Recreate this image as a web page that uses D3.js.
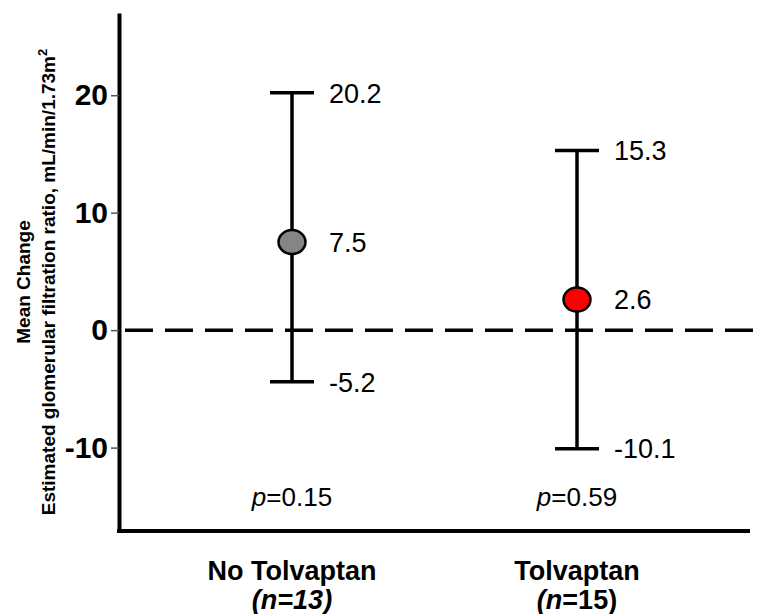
<!DOCTYPE html>
<html>
<head>
<meta charset="utf-8">
<script src="https://cdn.jsdelivr.net/npm/d3@7"></script>
<style>
  body { margin: 0; background: #fff; }
  svg { display: block; font-family: "Liberation Sans", Arial, sans-serif; }
</style>
</head>
<body>
<div id="chart"></div>
<script>
// data
var categories = ["No Tolvaptan", "Tolvaptan"];
var nLabels = ["13", "15"];
var means = [7.5, 2.6];
var upper = [20.2, 15.3];
var lower = [-4.4, -10.1];          // where the caps sit on the axis
var meanText = ["7.5", "2.6"];
var upperText = ["20.2", "15.3"];
var lowerText = ["-5.2", "-10.1"];
var pValues = ["0.15", "0.59"];
var dotColors = ["#858585", "#ff0000"];
var yTicks = [-10, 0, 10, 20];

var width = 765, height = 614;

var svg = d3.select("#chart")
  .append("svg")
  .attr("width", width)
  .attr("height", height);

// scales
var y = d3.scaleLinear()
  .domain([-17.1, 27])
  .range([531, 13]);

var x = d3.scalePoint()
  .domain(categories)
  .range([119, 750])
  .padding(0.607);

// y axis
var yAxis = svg.append("g")
  .attr("transform", "translate(119,0)")
  .call(d3.axisLeft(y)
    .tickValues(yTicks)
    .tickFormat(function(d) { return String(d); })   // plain hyphen like the original
    .tickSize(8).tickSizeOuter(0).tickPadding(3));

yAxis.select(".domain")
  .attr("stroke", "#000")
  .attr("stroke-width", 4);
yAxis.selectAll(".tick line")
  .attr("stroke", "#555")
  .attr("stroke-width", 1.5);
yAxis.selectAll(".tick text")
  .attr("font-size", 30)
  .attr("font-weight", "bold")
  .attr("font-family", "Liberation Sans, Arial, sans-serif")
  .attr("fill", "#000");

// x axis (line only, labels added below)
var xAxis = svg.append("g")
  .attr("transform", "translate(0,531)")
  .call(d3.axisBottom(x).tickSize(0).tickSizeOuter(0).tickFormat(""));
xAxis.select(".domain")
  .attr("stroke", "#000")
  .attr("stroke-width", 4)
  .attr("d", "M117,0H750");

// category labels, two lines each
svg.selectAll(".cat")
  .data(categories)
  .enter()
  .append("text")
  .attr("class", "cat")
  .attr("x", function(d) { return x(d); })
  .attr("y", 580)
  .attr("text-anchor", "middle")
  .attr("font-size", 27)
  .attr("font-weight", "bold")
  .text(function(d) { return d; });

var nText = svg.selectAll(".ncount")
  .data(categories)
  .enter()
  .append("text")
  .attr("class", "ncount")
  .attr("x", function(d) { return x(d); })
  .attr("y", 609)
  .attr("text-anchor", "middle")
  .attr("font-size", 27)
  .attr("font-weight", "bold");
nText.append("tspan").attr("font-style", "italic").text("(n");
nText.append("tspan")
  .attr("font-style", function(d, i) { return i === 0 ? "italic" : "normal"; })
  .text(function(d, i) { return "=" + nLabels[i] + ")"; });

// zero reference line
svg.append("line")
  .attr("x1", 125)
  .attr("x2", width)
  .attr("y1", y(0))
  .attr("y2", y(0))
  .attr("stroke", "#000")
  .attr("stroke-width", 3.5)
  .attr("stroke-dasharray", "28,12");

// error bars
var bars = svg.selectAll(".bar")
  .data(categories)
  .enter()
  .append("g")
  .attr("class", "bar");

bars.append("line")
  .attr("x1", function(d) { return x(d); })
  .attr("x2", function(d) { return x(d); })
  .attr("y1", function(d, i) { return y(upper[i]); })
  .attr("y2", function(d, i) { return y(lower[i]); })
  .attr("stroke", "#000")
  .attr("stroke-width", 3.5);

[upper, lower].forEach(function(arr) {
  bars.append("line")
    .attr("x1", function(d) { return x(d) - 22; })
    .attr("x2", function(d) { return x(d) + 22; })
    .attr("y1", function(d, i) { return y(arr[i]); })
    .attr("y2", function(d, i) { return y(arr[i]); })
    .attr("stroke", "#000")
    .attr("stroke-width", 3.5);
});

bars.append("ellipse")
  .attr("cx", function(d) { return x(d); })
  .attr("cy", function(d, i) { return y(means[i]); })
  .attr("rx", 13.5)
  .attr("ry", 12)
  .attr("fill", function(d, i) { return dotColors[i]; })
  .attr("stroke", "#000")
  .attr("stroke-width", 2.5);

// value labels
[[upper, upperText], [means, meanText], [lower, lowerText]].forEach(function(pair) {
  bars.append("text")
    .attr("x", function(d) { return x(d) + 37; })
    .attr("y", function(d, i) { return y(pair[0][i]); })
    .attr("dy", "0.36em")
    .attr("font-size", 27)
    .text(function(d, i) { return pair[1][i]; });
});

// p values
var pt = svg.selectAll(".pval")
  .data(categories)
  .enter()
  .append("text")
  .attr("class", "pval")
  .attr("x", function(d) { return x(d); })
  .attr("y", 506)
  .attr("text-anchor", "middle")
  .attr("font-size", 26);
pt.append("tspan").attr("font-style", "italic").text("p");
pt.append("tspan").text(function(d, i) { return "=" + pValues[i]; });

// y axis title
var title = svg.append("text")
  .attr("transform", "rotate(-90)")
  .attr("text-anchor", "middle")
  .attr("font-weight", "bold")
  .attr("font-size", 19);
title.append("tspan")
  .attr("x", -282)
  .attr("y", 30)
  .text("Mean Change");
title.append("tspan")
  .attr("x", -282)
  .attr("y", 55)
  .text("Estimated glomerular filtration ratio, mL/min/1.73m");
title.append("tspan")
  .attr("dy", -8)
  .attr("font-size", 13)
  .text("2");
</script>
</body>
</html>
